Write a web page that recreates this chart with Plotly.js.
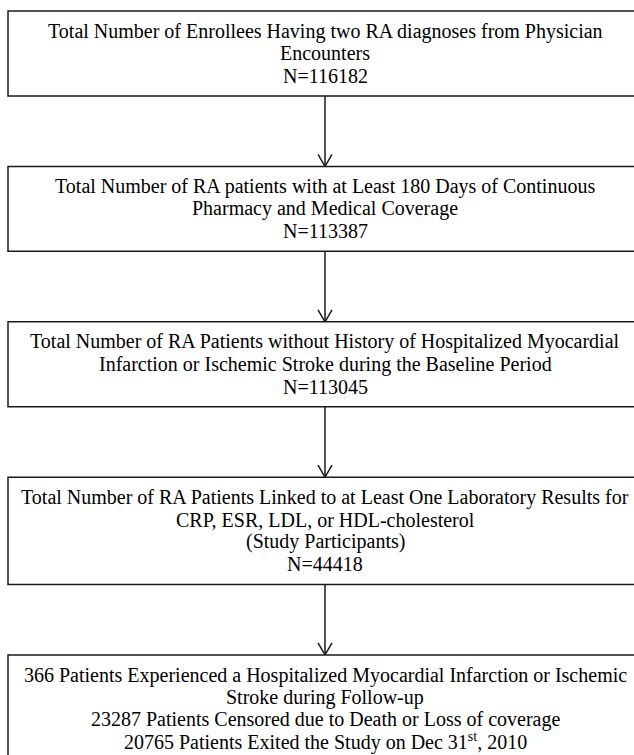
<!DOCTYPE html>
<html>
<head>
<meta charset="utf-8">
<script src="https://cdn.plot.ly/plotly-3.0.1.min.js"></script>
<style>html,body{margin:0;padding:0;background:#fff;}#chart{width:634px;height:755px;}</style>
</head>
<body>
<div id="chart"></div>
<script>
// ---- data ----
const stageCounts = [116182, 113387, 113045, 44418];
const stageLabels = [
  ["Total Number of Enrollees Having two RA diagnoses from Physician", "Encounters"],
  ["Total Number of RA patients with at Least 180 Days of Continuous", "Pharmacy and Medical Coverage"],
  ["Total Number of RA Patients without History of Hospitalized Myocardial", "Infarction or Ischemic Stroke during the Baseline Period"],
  ["Total Number of RA Patients Linked to at Least One Laboratory Results for", "CRP, ESR, LDL, or HDL-cholesterol", "(Study Participants)"]
];
const outcomeCounts = [366, 23287, 20765];
const outcomeLabels = [
  ["Patients Experienced a Hospitalized Myocardial Infarction or Ischemic", "Stroke during Follow-up"],
  ["Patients Censored due to Death or Loss of coverage"],
  ["Patients Exited the Study on Dec 31<sup>st</sup>, 2010"]
];

// ---- build box contents ----
const boxes = stageLabels.map((lines, i) => lines.concat(["N=" + stageCounts[i]]));
const finalBox = [];
outcomeLabels.forEach((lines, i) => {
  lines.forEach((l, j) => finalBox.push(j === 0 ? outcomeCounts[i] + " " + l : l));
});
boxes.push(finalBox);

// ---- layout params ----
const W = 634, H = 755;
const left = 8, right = 642, cx = 325;
const top0 = 11, lineH = 22.3, pad = 9, gap = 70.5;
const headH = 12, headW = 7;
const font = {family: "Liberation Serif, Times New Roman, serif", size: 20, color: '#000'};
const lineStyle = {color: '#1a1a1a', width: 1.5};

const shapes = [], annotations = [];
let y = top0;
boxes.forEach((lines, i) => {
  const h = lines.length * lineH + 2 * pad;
  shapes.push({type: 'rect', xref: 'x', yref: 'y', x0: left, x1: right, y0: y, y1: y + h, line: lineStyle, fillcolor: 'rgba(0,0,0,0)'});
  lines.forEach((t, j) => {
    annotations.push({xref: 'x', yref: 'y', x: cx, y: y + pad + lineH * (j + 0.5), text: t, showarrow: false,
      font: font, xanchor: 'center', yanchor: 'middle'});
  });
  const bottom = y + h;
  if (i < boxes.length - 1) {
    const tip = bottom + gap;
    shapes.push({type: 'line', xref: 'x', yref: 'y', x0: cx, x1: cx, y0: bottom, y1: tip, line: lineStyle});
    shapes.push({type: 'line', xref: 'x', yref: 'y', x0: cx - headW, x1: cx, y0: tip - headH, y1: tip, line: lineStyle});
    shapes.push({type: 'line', xref: 'x', yref: 'y', x0: cx + headW, x1: cx, y0: tip - headH, y1: tip, line: lineStyle});
  }
  y = bottom + gap;
});

Plotly.newPlot('chart', [], {
  width: W, height: H,
  margin: {l: 0, r: 0, t: 0, b: 0},
  paper_bgcolor: '#fff', plot_bgcolor: '#fff',
  xaxis: {range: [0, W], visible: false, fixedrange: true},
  yaxis: {range: [H, 0], visible: false, fixedrange: true},
  shapes: shapes, annotations: annotations, showlegend: false
}, {staticPlot: true, displayModeBar: false});
</script>
</body>
</html>
